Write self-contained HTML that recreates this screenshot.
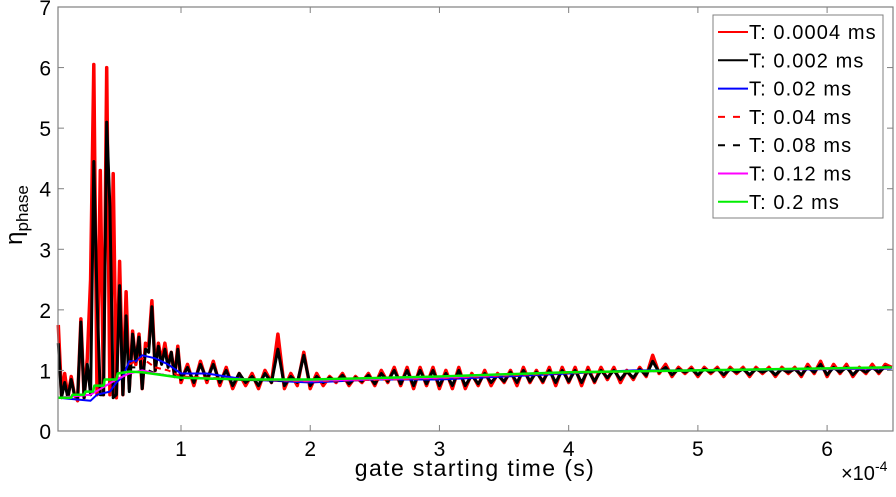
<!DOCTYPE html>
<html><head><meta charset="utf-8"><style>
body{margin:0;background:#fff;}
svg text{font-family:"Liberation Sans",sans-serif;fill:#000;}
</style></head><body>
<svg id="chart" width="896" height="492" xmlns="http://www.w3.org/2000/svg">
<g id="series"></g>
<g id="axes"></g>
<text x="22" y="215" font-size="24" transform="rotate(-90 22 215)" text-anchor="middle">η<tspan font-size="17" dy="6">phase</tspan></text>
<text x="475" y="476" font-size="23" letter-spacing="1.4" text-anchor="middle">gate starting time (s)</text>
<text x="841" y="480" font-size="20">×10<tspan font-size="14" dy="-9">-4</tspan></text>
<g id="legend"></g>
</svg>
<script>
const earlyX0 = 0.05, earlyStep = 0.025, lateX0 = 1.05, lateStep = 0.05;
const redEarly = [1.75,0.6,0.95,0.55,0.9,0.6,0.5,1.85,0.55,1.2,2.5,6.05,0.6,4.3,0.6,6.0,0.6,4.25,0.55,2.8,0.6,2.3,0.7,1.65,1.1,1.6,0.7,1.45,1.4,2.15,1.0,1.45,1.15,1.45,1.1,1.3,0.9,1.4,0.8];
const blackEarly = [1.45,0.55,0.8,0.55,0.85,0.6,0.55,1.8,0.55,1.1,0.6,4.45,2.2,0.6,0.6,5.1,3.7,0.55,0.6,2.4,0.6,1.9,0.65,1.6,1.15,1.55,0.7,1.35,1.3,2.05,1.0,1.4,1.1,1.35,1.05,1.3,0.9,1.35,0.85];
const redLate = [1.1,0.75,1.15,0.8,1.15,0.75,1.05,0.7,0.95,0.75,0.95,0.7,1.0,0.8,1.6,0.7,0.95,0.75,1.3,0.7,
0.95,0.75,0.9,0.8,0.95,0.75,0.9,0.8,0.95,0.75,1.0,0.8,1.05,0.75,1.05,0.7,1.05,0.75,1.05,0.7,
1.0,0.7,1.05,0.7,0.95,0.75,1.0,0.75,0.95,0.8,1.0,0.75,1.05,0.8,1.0,0.8,1.05,0.75,1.05,0.8,
1.05,0.75,1.05,0.8,1.05,0.85,1.05,0.8,1.0,0.85,1.05,0.9,1.25,0.95,1.1,0.9,1.05,0.95,1.05,0.9,
1.05,0.95,1.05,0.9,1.05,0.95,1.05,0.9,1.05,0.95,1.05,0.9,1.05,0.95,1.05,0.9,1.1,0.95,1.15,0.9,
1.1,0.95,1.1,0.9,1.05,0.95,1.1,0.95,1.1,1.05];
const blackLate = [1.05,0.8,1.1,0.85,1.1,0.8,1.0,0.75,0.95,0.8,0.9,0.75,0.95,0.8,1.35,0.75,0.9,0.8,1.25,0.75,
0.9,0.8,0.88,0.82,0.92,0.78,0.88,0.82,0.92,0.78,0.95,0.82,1.0,0.78,1.0,0.75,1.0,0.78,1.0,0.75,
0.95,0.75,1.0,0.75,0.92,0.78,0.95,0.8,0.92,0.82,0.97,0.8,1.0,0.82,0.97,0.82,1.0,0.8,1.0,0.82,
1.0,0.8,1.0,0.82,1.0,0.88,1.0,0.85,0.98,0.88,1.02,0.92,1.15,0.97,1.05,0.93,1.02,0.97,1.02,0.93,
1.02,0.97,1.02,0.93,1.02,0.97,1.02,0.93,1.02,0.97,1.02,0.93,1.02,0.97,1.02,0.93,1.05,0.97,1.1,0.93,
1.05,0.97,1.05,0.93,1.03,0.97,1.05,0.97,1.06,1.04];
const blueX = [0.05,0.3,0.35,0.45,0.5,0.55,0.6,0.65,0.7,0.8,0.9,1.0,1.2,1.5,2.0,2.5,3.0,3.5,4.0,4.5,5.0,6.5];
const blueY = [0.55,0.5,0.6,0.65,0.8,0.9,1.15,1.15,1.25,1.2,1.1,0.95,0.95,0.85,0.8,0.85,0.85,0.9,0.95,1.0,1.0,1.03];
const redDashX = [0.6,0.7,0.8,0.9,1.0,1.5,2.0,3.0,4.0,5.0,6.5];
const redDashY = [1.1,1.2,1.05,1.0,0.9,0.85,0.82,0.87,0.96,1.0,1.04];
const blackDashX = [0.6,0.7,0.8,1.0,1.5,2.0,3.0,4.0,5.0,6.5];
const blackDashY = [1.05,1.05,0.95,0.88,0.84,0.83,0.88,0.97,1.0,1.04];
const magentaX = [0.05,0.3,0.5,0.6,0.7,0.8,1.0,2.0,3.0,4.0,6.5];
const magentaY = [0.55,0.6,0.85,0.95,1.0,0.95,0.88,0.83,0.88,0.97,1.04];
const greenX = [0.05,0.15,0.16,0.25,0.26,0.32,0.33,0.4,0.41,0.5,0.51,0.6,0.7,1.0,1.5,2.0,3.0,4.0,5.0,6.5];
const greenY = [0.55,0.55,0.6,0.6,0.65,0.65,0.75,0.75,0.85,0.85,0.95,0.98,0.97,0.88,0.85,0.85,0.9,0.97,1.0,1.05];
const legendLabels = ["T: 0.0004 ms","T: 0.002 ms","T: 0.02 ms","T: 0.04 ms","T: 0.08 ms","T: 0.12 ms","T: 0.2 ms"];
const xTicks = [1,2,3,4,5,6];
const yTicks = [0,1,2,3,4,5,6,7];

const L=58,R=893,T=7,B=431, XMIN=0.048, XMAX=6.51, YMIN=0, YMAX=7;
const sx=v=>L+(v-XMIN)/(XMAX-XMIN)*(R-L);
const sy=v=>B-(v-YMIN)/(YMAX-YMIN)*(B-T);
const NS="http://www.w3.org/2000/svg";
const series=document.getElementById('series');
function mk(tag,attrs,parent){const e=document.createElementNS(NS,tag);for(const k in attrs)e.setAttribute(k,attrs[k]);parent.appendChild(e);return e;}
function pathXY(xs,ys){return xs.map((x,i)=>(i?'L':'M')+sx(x).toFixed(1)+' '+sy(ys[i]).toFixed(1)).join(' ');}
function gridXs(x0,step,n){const a=[];for(let i=0;i<n;i++)a.push(+(x0+i*step).toFixed(4));return a;}
const redX=gridXs(earlyX0,earlyStep,redEarly.length).concat(gridXs(lateX0,lateStep,redLate.length));
const blackX=gridXs(earlyX0,earlyStep,blackEarly.length).concat(gridXs(lateX0,lateStep,blackLate.length));
const specs=[
 {n:'series-red-0004',xs:redX,ys:redEarly.concat(redLate),c:'#ff0000',w:3.5,d:''},
 {n:'series-black-002',xs:blackX,ys:blackEarly.concat(blackLate),c:'#000',w:3,d:''},
 {n:'series-blue-02',xs:blueX,ys:blueY,c:'#0000ff',w:2,d:''},
 {n:'series-red-dashed-04',xs:redDashX,ys:redDashY,c:'#ff0000',w:2,d:'6 4'},
 {n:'series-black-dashed-08',xs:blackDashX,ys:blackDashY,c:'#000',w:2,d:'6 4'},
 {n:'series-magenta-12',xs:magentaX,ys:magentaY,c:'#ff00ff',w:2,d:''},
 {n:'series-green-2',xs:greenX,ys:greenY,c:'#00ee00',w:2.5,d:''}];
specs.forEach(s=>{
 const p=mk('path',{d:pathXY(s.xs,s.ys),fill:'none',stroke:s.c,'stroke-width':s.w,'stroke-linejoin':'round'},series);
 if(s.d)p.setAttribute('stroke-dasharray',s.d);
 
 
});
const axes=document.getElementById('axes');
const box=mk('rect',{x:L,y:T,width:R-L,height:B-T,fill:'none',stroke:'#808080','stroke-width':1.2},axes);


xTicks.forEach(v=>{
 const x=sx(v);
 mk('line',{x1:x,x2:x,y1:B,y2:B-6,stroke:'#808080'},axes);
 mk('line',{x1:x,x2:x,y1:T,y2:T+6,stroke:'#808080'},axes);
 const t=mk('text',{x:x,y:B+25,'font-size':21,'text-anchor':'middle'},axes);t.textContent=v;
 
 
});
yTicks.forEach(v=>{
 const y=sy(v);
 mk('line',{x1:L,x2:L+6,y1:y,y2:y,stroke:'#808080'},axes);
 mk('line',{x1:R,x2:R-6,y1:y,y2:y,stroke:'#808080'},axes);
 const t=mk('text',{x:51,y:y+8,'font-size':21,'text-anchor':'end'},axes);t.textContent=v;
 
 
});
const lg=document.getElementById('legend');
const lb=mk('rect',{x:713,y:15,width:170,height:203,fill:'#fff',stroke:'#808080','stroke-width':1},lg);


legendLabels.forEach((lab,i)=>{
 const y=32+i*28.3, s=specs[i];
 const g=mk('g',{},lg);
 
 
 const ln=mk('line',{x1:718,x2:748,y1:y,y2:y,stroke:s.c,'stroke-width':2},g);
 if(s.d)ln.setAttribute('stroke-dasharray','7 8');
 const t=mk('text',{x:749,y:y+7,'font-size':20,'letter-spacing':1.1},g);t.textContent=lab;
});
</script>
</body></html>
